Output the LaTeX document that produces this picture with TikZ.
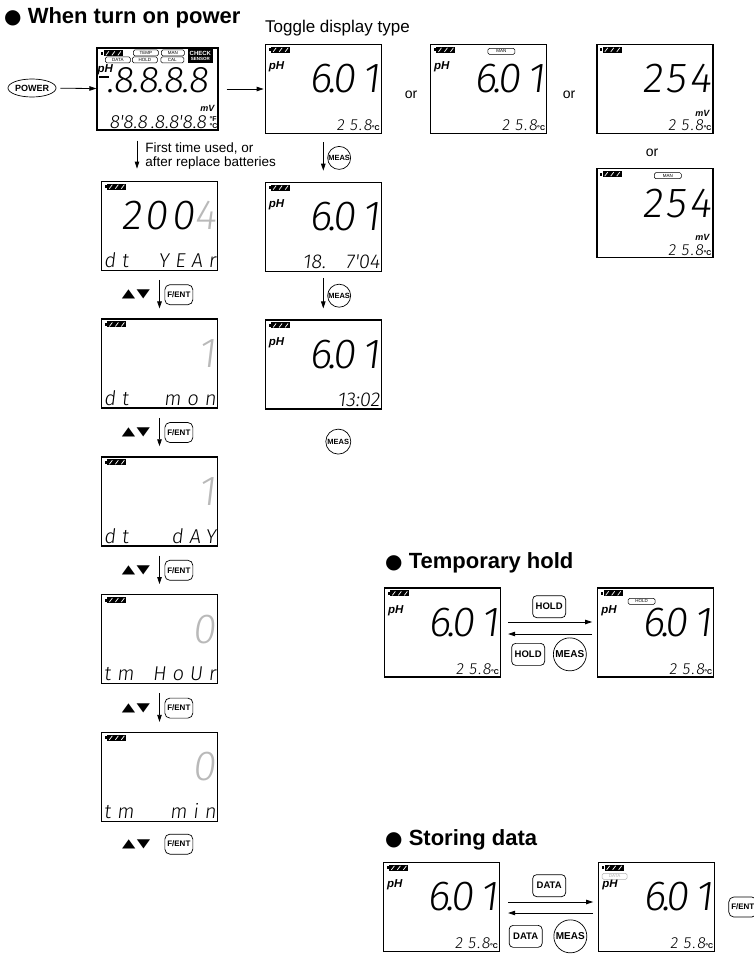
\documentclass[tikz,border=0pt]{standalone}
\usepackage{fontspec}
\usepackage{graphicx}
\setmainfont{Liberation Sans}
\newfontfamily\symfont{DejaVu Sans}
\IfFontExistsTF{Fira Sans Light}
  {\newfontfamily\lcdfont[FakeSlant=0.12]{Fira Sans Light}}
  {\newfontfamily\lcdfont[FakeSlant=0.12]{Liberation Sans}}
\usetikzlibrary{
    arrows.meta,
    shapes.geometric,
    positioning,
    calc
}
\tikzstyle{lcd} = [
    rectangle,
    draw=black,
    line width=1.3pt,
    minimum width=116pt,
    minimum height=89pt,
    inner sep=0pt
]
\tikzstyle{flow} = [
    -{Triangle[length=7pt,width=4.5pt]},
    line width=0.8pt,
    draw=black
]
\tikzstyle{keybox} = [
    rectangle,
    rounded corners=4pt,
    draw,
    line width=0.7pt,
    minimum width=33pt,
    minimum height=22pt,
    inner xsep=3pt,
    font=\bfseries\fontsize{9.5}{9.5}\selectfont
]
\tikzstyle{fkey} = [
    keybox,
    rounded corners=5pt,
    minimum width=28pt,
    minimum height=20pt,
    inner xsep=1.5pt,
    font=\bfseries\fontsize{8}{8}\selectfont
]
\tikzstyle{meas} = [
    circle,
    draw,
    line width=0.7pt,
    minimum size=23pt,
    inner sep=0pt,
    font=\bfseries\fontsize{7.5}{7.5}\selectfont
]
\tikzstyle{bigmeas} = [
    minimum size=33pt,
    font=\bfseries\fontsize{10}{10}\selectfont
]
\tikzstyle{powerkey} = [
    ellipse,
    draw,
    line width=0.7pt,
    minimum width=46pt,
    minimum height=18pt,
    inner sep=0pt,
    font=\bfseries\fontsize{9}{9}\selectfont
]
\tikzstyle{battery} = [
    rectangle,
    fill=black,
    minimum width=19pt,
    minimum height=6pt,
    inner sep=0pt,
    path picture={
        \foreach \k in {-6,0,6}
            \draw[white, line width=0.7pt]
                ([xshift={\k*1pt-1.5pt}, yshift=1pt]path picture bounding box.south) -- ++(3pt,4pt);
    },
    label={[fill=black, minimum width=2pt, minimum height=3pt, inner sep=0pt, anchor=east]west:{}}
]
\tikzstyle{tag} = [
    rectangle,
    rounded corners=1.5pt,
    draw,
    line width=0.5pt,
    minimum width=25pt,
    minimum height=6pt,
    inner sep=0pt,
    font=\fontsize{4.5}{4.5}\selectfont
]
\tikzstyle{sensor} = [
    rectangle,
    fill=black,
    text=white,
    minimum width=25pt,
    minimum height=14pt,
    inner sep=0.5pt,
    align=center,
    font=\bfseries\fontsize{6}{6}\selectfont
]
\tikzstyle{unitlabel} = [anchor=north west, inner sep=0pt, font=\bfseries\itshape\fontsize{11.5}{11.5}\selectfont]
\tikzstyle{mvlabel} = [anchor=east, inner sep=0pt, font=\bfseries\itshape\fontsize{9}{9}\selectfont]
\tikzstyle{degtag} = [anchor=south east, inner sep=0pt, align=left, font=\bfseries\fontsize{7}{7}\selectfont]
\tikzstyle{bigreading} = [anchor=east, inner sep=0pt, font=\lcdfont\fontsize{42}{42}\selectfont\addfontfeature{LetterSpace=8}]
\tikzstyle{lowreading} = [anchor=south east, inner sep=0pt, font=\lcdfont\fontsize{16}{16}\selectfont\addfontfeature{LetterSpace=8}]
\tikzstyle{updown} = [inner sep=0pt, font=\symfont\fontsize{12}{12}\selectfont]
\tikzstyle{heading} = [anchor=base west, inner sep=0pt, font=\bfseries\fontsize{22}{22}\selectfont]
\tikzstyle{ortext} = [anchor=base, inner sep=0pt, font=\fontsize{14}{14}\selectfont]
\tikzstyle{note} = [inner sep=0pt, align=left, font=\fontsize{13.5}{14}\selectfont]

% battery, unit, reading, lower line of one display
\newcommand{\lcdread}[4]{%
    \node[battery] (#1-bat) at ([shift={(16,6)}]#1.north west) {};
    \node[unitlabel] (#1-unit) at ([shift={(4,18)}]#1.north west) {#2};
    \node[bigreading] (#1-big) at ([shift={(-2,-10)}]#1.east) {#3};
    \node[lowreading] (#1-low) at ([shift={(-2,-3)}]#1.south east) {#4};
}
\newcommand{\lcddot}{\kern-4pt.\kern-4pt}
\newcommand{\initdot}{\kern-1.5pt.\kern-1pt}
\newcommand{\degc}{{\normalfont\bfseries\fontsize{7}{7}\selectfont °C}}
\newcommand{\dtline}[2]{\makebox[112pt]{\fontsize{20}{20}\selectfont\addfontfeature{LetterSpace=30}#1\hfill #2}}
\newcommand{\clockline}[1]{{\lcdfont\fontsize{20}{20}\selectfont #1}}
\newcommand{\updown}{\scalebox{1.45}[1]{▲\kern1pt▼}}
\newcommand{\bullsym}{{\symfont\fontsize{20}{20}\selectfont ●}}

\begin{document}
\begin{tikzpicture}[x=1pt, y=-1pt, node distance=47.5pt]
    \path[use as bounding box] (0,0) rectangle (753,956);

    % Headings
    \node[heading] (hdpower) at (4,23) {\bullsym\ When turn on power};
    \node[anchor=base west, inner sep=0pt, font=\fontsize{17}{17}\selectfont] (hdtoggle) at (265,32) {Toggle display type};
    \node[heading] (hdhold) at (385,568) {\bullsym\ Temporary hold};
    \node[heading] (hdstore) at (385,845) {\bullsym\ Storing data};

    % Power on, all segments
    \node[powerkey] (power) at (32,88) {POWER};
    \node[lcd, minimum width=121pt, minimum height=82pt] (init) at (157.5,89) {};
    \draw[flow, shorten <=4pt] (power) -- (init);
    \node[battery] (init-bat) at ([shift={(17,6)}]init.north west) {};
    \node[tag] (init-temp) at ([shift={(49.5,5.5)}]init.north west) {TEMP};
    \node[tag, minimum width=23pt] (init-man) at ([shift={(76.5,5.5)}]init.north west) {MAN};
    \node[tag] (init-data) at ([shift={(21.5,12.5)}]init.north west) {DATA};
    \node[tag] (init-hold) at ([shift={(48.5,12.5)}]init.north west) {HOLD};
    \node[tag, minimum width=23pt] (init-cal) at ([shift={(76,12.5)}]init.north west) {CAL};
    \node[sensor] (init-check) at ([shift={(104,8.5)}]init.north west) {CHECK\\[-1pt]{\fontsize{4.5}{4.5}\selectfont SENSOR}};
    \node[unitlabel] (init-unit) at ([shift={(1,17)}]init.north west) {pH};
    \node[inner sep=0pt] (init-minus) at ([shift={(8,30)}]init.north west) {\rule{10pt}{2.2pt}};
    \node[bigreading, font=\lcdfont\fontsize{37}{37}\selectfont] (init-big) at ([shift={(-10,-9)}]init.east) {\initdot8\initdot8\initdot8\initdot8};
    \node[mvlabel] (init-mv) at ([shift={(-4,-22)}]init.south east) {mV};
    \node[degtag] (init-deg) at ([shift={(-1,-2)}]init.south east) {°F\\°C};
    \node[lowreading, font=\lcdfont\fontsize{19}{19}\selectfont] (init-low) at ([shift={(-12,-2)}]init.south east) {8'8.8\,.8.8'8.8};

    % Toggle display type
    \node[lcd, right=46pt of init] (dispA) {};
    \draw[flow, shorten <=8pt, shorten >=1pt] (init) -- (dispA);
    \node[lcd, right=48pt of dispA] (dispB) {};
    \node[lcd, right=49pt of dispB] (dispC) {};
    \node[lcd, below=34pt of dispC] (dispD) {};
    \node[ortext] (orAB) at (411,98) {or};
    \node[ortext] (orBC) at (569,98) {or};
    \node[ortext] (orCD) at (652,156) {or};
    \lcdread{dispA}{pH}{6\lcddot0\,1}{2\,\,5.8\degc}
    \lcdread{dispB}{pH}{6\lcddot0\,1}{2\,\,5.8\degc}
    \node[tag, minimum width=27pt] (dispB-man) at ([shift={(71.5,7.5)}]dispB.north west) {MAN};
    \lcdread{dispC}{}{254}{2\,\,5.8\degc}
    \node[mvlabel] (dispC-mv) at ([shift={(-4,-21)}]dispC.south east) {mV};
    \lcdread{dispD}{}{254}{2\,\,5.8\degc}
    \node[tag, minimum width=27pt] (dispD-man) at ([shift={(71.5,7.5)}]dispD.north west) {MAN};
    \node[mvlabel] (dispD-mv) at ([shift={(-4,-21)}]dispD.south east) {mV};

    % Date and time
    \node[lcd, below=of dispA] (date) {};
    \node[lcd, below=of date] (clock) {};
    \lcdread{date}{pH}{6\lcddot0\,1}{\clockline{18.\hspace{20pt}7'04}}
    \lcdread{clock}{pH}{6\lcddot0\,1}{\clockline{13:02}}
    \draw[flow, shorten <=8pt, shorten >=11pt] (dispA.south) -- (date.north)
        node[meas, midway, right=4pt] (measA) {MEAS};
    \draw[flow, shorten <=6pt, shorten >=11pt] (date.south) -- (clock.north)
        node[meas, midway, right=4pt] (measB) {MEAS};
    \node[meas, minimum size=25pt, below=19pt of clock, xshift=15pt] (measC) {MEAS};

    % Setting the clock
    \node[lcd, below=50pt of init, xshift=2pt] (year) {};
    \node[lcd, below=of year] (month) {};
    \node[lcd, below=of month] (day) {};
    \node[lcd, below=of day] (hour) {};
    \node[lcd, below=of hour] (mins) {};
    \draw[flow, shorten <=10pt, shorten >=12pt] ([xshift=-20.5pt]init.south) -- ([xshift=-20.5pt]init.south |- year.north)
        node[note, midway, right=8pt] (firstuse) {First time used, or\\after replace batteries};
    \lcdread{year}{}{200{\color{gray!55}4}}{\dtline{dt}{YEAr}}
    \lcdread{month}{}{\color{gray!55}1}{\dtline{dt}{mon}}
    \lcdread{day}{}{\color{gray!55}1}{\dtline{dt}{dAY}}
    \lcdread{hour}{}{\color{gray!55}0}{\dtline{tm}{HoUr}}
    \lcdread{mins}{}{\color{gray!55}0}{\dtline{tm}{min}}
    \foreach \a/\b in {year/month, month/day, day/hour, hour/mins}{
        \draw[flow, shorten <=9pt, shorten >=10pt] (\a.south) -- (\b.north)
            node[fkey, midway, right=5pt] (\a-key) {F/ENT}
            node[updown, midway, left=9pt] (\a-ud) {\updown};
    }
    \coordinate (minsnext) at ([shift={(0,22)}]mins.south);
    \node[fkey, right=5pt of minsnext] (mins-key) {F/ENT};
    \node[updown, left=9pt of minsnext] (mins-ud) {\updown};

    % Temporary hold
    \node[lcd] (holdL) at (442.5,632.5) {};
    \node[lcd, right=96pt of holdL] (holdR) {};
    \lcdread{holdL}{pH}{6\lcddot0\,1}{2\,\,5.8\degc}
    \lcdread{holdR}{pH}{6\lcddot0\,1}{2\,\,5.8\degc}
    \node[tag, minimum width=27pt] (holdR-tag) at ([shift={(44.5,14)}]holdR.north west) {HOLD};
    \draw[flow, shorten <=7pt, shorten >=5pt] ([yshift=10.5pt]holdL.east) -- ([yshift=10.5pt]holdR.west)
        node[keybox, midway, above=4pt] (holdon) {HOLD};
    \draw[flow, shorten <=5pt, shorten >=7pt] ([yshift=-1.5pt]holdR.west) -- ([yshift=-1.5pt]holdL.east)
        node[keybox, midway, below=9pt, xshift=-21pt] (holdoff) {HOLD};
    \node[meas, bigmeas, right=8pt of holdoff] (holdmeas) {MEAS};

    % Storing data
    \node[lcd] (dataL) at (441.5,907) {};
    \node[lcd, right=98pt of dataL] (dataR) {};
    \lcdread{dataL}{pH}{6\lcddot0\,1}{2\,\,5.8\degc}
    \lcdread{dataR}{pH}{6\lcddot0\,1}{2\,\,5.8\degc}
    \node[tag, draw=gray!60, text=gray!60] (dataR-tag) at ([shift={(16.5,14.5)}]dataR.north west) {DATA};
    \draw[flow, shorten <=8pt, shorten >=5pt] ([yshift=5pt]dataL.east) -- ([yshift=5pt]dataR.west)
        node[keybox, midway, above=5pt] (dataon) {DATA};
    \draw[flow, shorten <=5pt, shorten >=8pt] ([yshift=-6pt]dataR.west) -- ([yshift=-6pt]dataL.east)
        node[keybox, midway, below=12pt, xshift=-23.5pt] (dataoff) {DATA};
    \node[meas, bigmeas, right=11pt of dataoff] (datameas) {MEAS};
    \node[fkey, right=13pt of dataR] (dataR-key) {F/ENT};
\end{tikzpicture}
\end{document}
